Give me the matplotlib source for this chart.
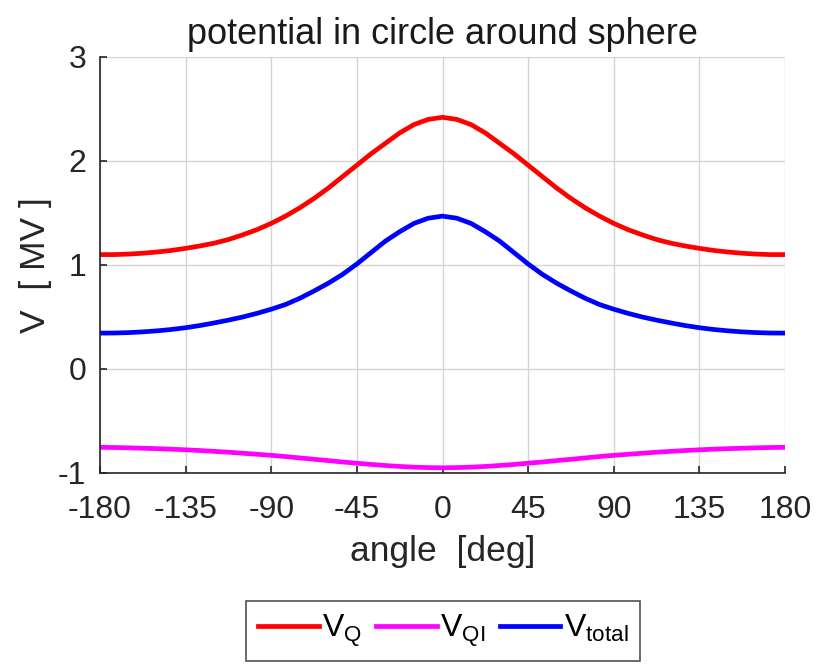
import matplotlib
matplotlib.use('Agg')
import matplotlib.pyplot as plt

plt.rcParams['font.family'] = ['Liberation Sans', 'DejaVu Sans']
plt.rcParams['axes.unicode_minus'] = False

# angle in degrees
angle = [-180, -172.5, -165, -157.5, -150, -142.5, -135, -127.5, -120, -112.5,
         -105, -97.5, -90, -82.5, -75, -67.5, -60, -52.5, -45, -37.5,
         -30, -22.5, -15, -7.5, 0, 7.5, 15, 22.5, 30, 37.5,
         45, 52.5, 60, 67.5, 75, 82.5, 90, 97.5, 105, 112.5,
         120, 127.5, 135, 142.5, 150, 157.5, 165, 172.5, 180]

v_q = [1.10, 1.10, 1.105, 1.113, 1.125, 1.14, 1.16, 1.183, 1.21, 1.245,
       1.29, 1.34, 1.40, 1.47, 1.55, 1.64, 1.74, 1.85, 1.96, 2.07,
       2.17, 2.27, 2.35, 2.40, 2.42, 2.40, 2.35, 2.27, 2.17, 2.07,
       1.96, 1.85, 1.74, 1.64, 1.55, 1.47, 1.40, 1.34, 1.29, 1.245,
       1.21, 1.183, 1.16, 1.14, 1.125, 1.113, 1.105, 1.10, 1.10]

v_qi = [-0.753, -0.755, -0.758, -0.762, -0.766, -0.771, -0.777, -0.784, -0.792, -0.80,
        -0.81, -0.82, -0.83, -0.842, -0.855, -0.868, -0.881, -0.894, -0.906, -0.918,
        -0.928, -0.937, -0.944, -0.948, -0.95, -0.948, -0.944, -0.937, -0.928, -0.918,
        -0.906, -0.894, -0.881, -0.868, -0.855, -0.842, -0.83, -0.82, -0.81, -0.80,
        -0.792, -0.784, -0.777, -0.771, -0.766, -0.762, -0.758, -0.755, -0.753]

v_total = [0.345, 0.346, 0.35, 0.357, 0.367, 0.38, 0.397, 0.418, 0.443, 0.47,
           0.50, 0.535, 0.575, 0.62, 0.68, 0.75, 0.825, 0.91, 1.01, 1.12,
           1.23, 1.32, 1.40, 1.45, 1.47, 1.45, 1.40, 1.32, 1.23, 1.12,
           1.01, 0.91, 0.825, 0.75, 0.68, 0.62, 0.575, 0.535, 0.50, 0.47,
           0.443, 0.418, 0.397, 0.38, 0.367, 0.357, 0.35, 0.346, 0.345]

xticks = [-180, -135, -90, -45, 0, 45, 90, 135, 180]
yticks = [-1, 0, 1, 2, 3]

fig = plt.figure(figsize=(8.18, 6.67), dpi=100)
ax = fig.add_axes([100 / 818, 1 - 473 / 667, 685 / 818, 416 / 667])

lw = 3.4
ax.plot(angle, v_q, color=(1, 0, 0), lw=lw, label='$\\mathregular{V_Q}$')
ax.plot(angle, v_qi, color=(1, 0, 1), lw=lw, label='$\\mathregular{V_{QI}}$')
ax.plot(angle, v_total, color=(0, 0, 1), lw=lw, label='$\\mathregular{V_{total}}$')

ax.set_xlim(-180, 180)
ax.set_ylim(-1, 3)
ax.set_xticks(xticks)
ax.set_yticks(yticks)
ax.grid(True, color='#d4d4d4', lw=1)
ax.set_axisbelow(True)

for s in ['top', 'right']:
    ax.spines[s].set_visible(False)
for s in ['left', 'bottom']:
    ax.spines[s].set_color('#262626')
    ax.spines[s].set_linewidth(1.2)

ax.tick_params(direction='in', length=5, width=1.2, colors='#262626',
               labelsize=23)
ax.tick_params(axis='x', pad=15.5)
ax.tick_params(axis='y', pad=10)

ax.set_title('potential in circle around sphere', fontsize=26, color='#1a1a1a', pad=9.5)
ax.set_xlabel('angle  [deg]', fontsize=25.5, color='#262626', labelpad=7.5)
ax.set_ylabel('V  [ MV ]', fontsize=25.5, color='#262626', labelpad=4)

leg = fig.legend(loc='upper center', bbox_to_anchor=(443 / 818, 1 - 601 / 667),
                 ncol=3, fontsize=23, frameon=True, fancybox=False,
                 handlelength=1.9, handletextpad=0.1, columnspacing=0.45,
                 borderpad=0.36, borderaxespad=0)
leg.get_frame().set_edgecolor('#262626')
leg.get_frame().set_linewidth(1.2)

fig.savefig('out.png', dpi=100)
